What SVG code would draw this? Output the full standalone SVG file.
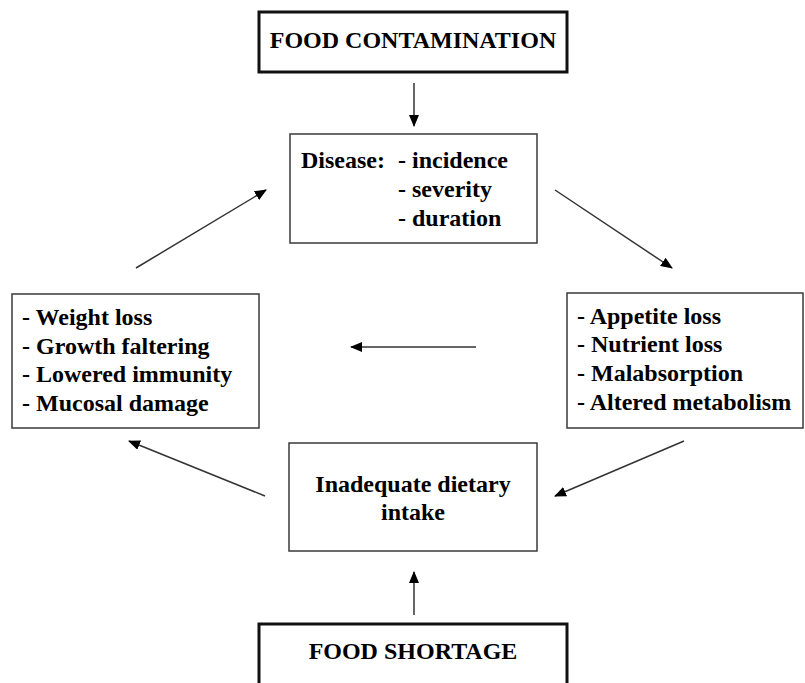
<svg xmlns="http://www.w3.org/2000/svg" width="805" height="683" viewBox="0 0 805 683">
  <style>
    .bg { fill: #ffffff; }
    .thick { fill: #ffffff; stroke: #111111; stroke-width: 3; }
    .thin { fill: #ffffff; stroke: #3a3a3a; stroke-width: 1.5; }
    .lbl { font-family: "Liberation Serif", "Times New Roman", serif; font-weight: bold; font-size: 24px; fill: #000000; }
    .conn { stroke: #333333; stroke-width: 1.5; fill: none; marker-end: url(#head); }
  </style>
  <defs>
    <marker id="head" viewBox="0 0 12 10" refX="11" refY="5" markerWidth="12" markerHeight="10" markerUnits="userSpaceOnUse" orient="auto">
      <path d="M0,0 L12,5 L0,10 Z" fill="#000000"/>
    </marker>
  </defs>

  <rect class="bg" x="0" y="0" width="805" height="683"/>

  <g id="food-contamination">
    <rect class="thick" x="259" y="12" width="308" height="60"/>
    <text class="lbl" x="413" y="48" text-anchor="middle">FOOD CONTAMINATION</text>
  </g>

  <g id="disease">
    <rect class="thin" x="290" y="134" width="247" height="109"/>
    <text class="lbl" x="301" y="168">Disease:</text>
    <text class="lbl" x="398" y="168">- incidence</text>
    <text class="lbl" x="398" y="197">- severity</text>
    <text class="lbl" x="398" y="226">- duration</text>
  </g>

  <g id="effects-left">
    <rect class="thin" x="12" y="294" width="247" height="134"/>
    <text class="lbl" x="22" y="325">- Weight loss</text>
    <text class="lbl" x="22" y="354">- Growth faltering</text>
    <text class="lbl" x="22" y="382">- Lowered immunity</text>
    <text class="lbl" x="22" y="411">- Mucosal damage</text>
  </g>

  <g id="effects-right">
    <rect class="thin" x="567" y="293" width="236" height="135"/>
    <text class="lbl" x="577" y="324">- Appetite loss</text>
    <text class="lbl" x="577" y="352">- Nutrient loss</text>
    <text class="lbl" x="577" y="381">- Malabsorption</text>
    <text class="lbl" x="577" y="410">- Altered metabolism</text>
  </g>

  <g id="inadequate-intake">
    <rect class="thin" x="289" y="443" width="248" height="108"/>
    <text class="lbl" x="413" y="492" text-anchor="middle">Inadequate dietary</text>
    <text class="lbl" x="413" y="520" text-anchor="middle">intake</text>
  </g>

  <g id="food-shortage">
    <rect class="thick" x="259" y="624" width="308" height="70"/>
    <text class="lbl" x="413" y="659" text-anchor="middle">FOOD SHORTAGE</text>
  </g>

  <g id="connectors">
    <line class="conn" x1="414" y1="83" x2="414" y2="126"/>
    <line class="conn" x1="555" y1="190" x2="672" y2="268"/>
    <line class="conn" x1="684" y1="441" x2="555" y2="496"/>
    <line class="conn" x1="476" y1="347" x2="351" y2="347"/>
    <line class="conn" x1="265" y1="496" x2="129" y2="441"/>
    <line class="conn" x1="136" y1="268" x2="266" y2="190"/>
    <line class="conn" x1="414" y1="615" x2="414" y2="572"/>
  </g>
</svg>
